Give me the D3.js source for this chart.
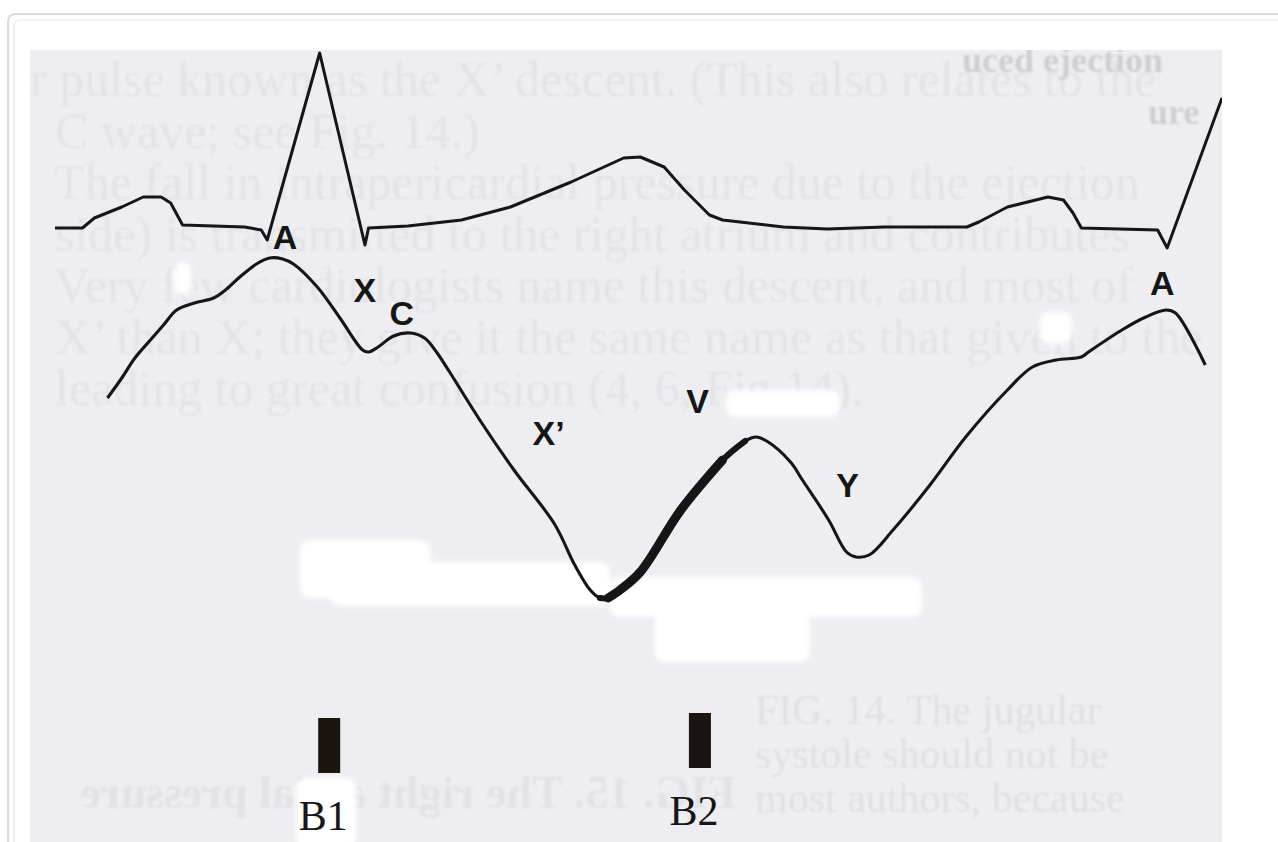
<!DOCTYPE html>
<html>
<head>
<meta charset="utf-8">
<script src="https://cdn.jsdelivr.net/npm/d3@7"></script>
<style>
  html, body { margin: 0; padding: 0; background: #fff; overflow: hidden; }
  svg { display: block; }
</style>
</head>
<body>
<svg id="chart" width="1278" height="842"></svg>
<script>
// time is in % of the sweep, amplitude in arbitrary units
const ecgTime = [2.1, 4.4, 5.4, 7.7, 9.5, 11.0, 11.8, 12.8, 18.0, 19.4, 19.9, 24.3, 28.1, 28.4, 31.7, 36.2, 40.3, 45.4, 49.8, 51.2, 53.2, 54.9, 57.0, 58.1, 63.2, 66.9, 71.7, 78.6, 79.6, 82.0, 85.4, 86.7, 87.5, 88.2, 94.6, 95.4, 100];
const ecgAmp  = [0, 0, 1.0, 2.1, 3.1, 3.1, 2.5, 0.3, 0.1, -0.2, -1.2, 17.5, -1.7, 0, 0.2, 0.8, 2.1, 4.6, 7.0, 7.1, 6.1, 3.8, 1.3, 0.8, 0.1, -0.1, 0.1, 0.1, 0.6, 2.1, 3.1, 2.8, 1.5, 0, -0.2, -2.0, 13.0];

const jvpTime = [6.5, 7.7, 8.8, 10.1, 11.2, 12.3, 13.8, 15.4, 16.4, 17.6, 19.0, 20.1, 21.2, 22.1, 24.1, 26.0, 27.9, 28.4, 29.2, 30.5, 31.9, 33.1, 34.1, 35.2, 37.9, 40.6, 44.0, 45.7, 47.0, 47.8, 48.5, 49.5, 51.2, 54.6, 58.1, 60.0, 60.9, 61.8, 63.8, 64.8, 67.0, 68.5, 69.3, 70.4, 72.4, 75.5, 78.5, 82.0, 84.1, 86.1, 88.2, 88.8, 91.6, 93.6, 95.3, 96.1, 98.6];
const jvpAmp  = [20.2, 22.2, 24.2, 26.0, 27.5, 29.0, 29.7, 30.2, 31.0, 32.3, 33.6, 34.2, 34.1, 33.6, 31.3, 28.2, 25.0, 24.8, 25.3, 26.4, 26.7, 26.2, 24.8, 22.8, 17.7, 13.0, 7.6, 3.5, 1.0, 0.2, 0.2, 1.0, 2.8, 9.0, 14.0, 15.9, 16.3, 15.9, 13.8, 12.0, 8.0, 4.8, 4.3, 4.5, 7.0, 11.5, 16.3, 21.0, 23.3, 24.0, 24.3, 24.8, 27.0, 28.3, 29.0, 28.7, 23.5];
// systolic stretch drawn heavy (x' trough up to v), as [from, to, width]
const heavyBands = [[47.8, 60.0, 6], [48.5, 58.1, 9]];

const waveNames = ["A", "X", "C", "X\u2019", "V", "Y", "A"];
const waveTime  = [21.4, 28.1, 31.2, 43.5, 56.0, 68.6, 95.0];
const waveAmp   = [36.3, 31.0, 28.7, 16.7, 19.9, 11.5, 31.7];

const soundNames = ["B1", "B2"];
const soundTime  = [25.1, 56.2];
const soundLevel = [0, 0.5];

// faint show-through of the scanned page
const ghostLines = [
  "r pulse known as the X\u2019 descent. (This also relates to the",
  "  C wave; see Fig. 14.)",
  "  The fall in intrapericardial pressure due to the ejection",
  "  side) is transmitted to the right atrium and contributes",
  "  Very few cardiologists name this descent, and most of",
  "  X\u2019 than X; they give it the same name as that given to the",
  "  leading to great confusion (4, 6, Fig 14).",
];
const ghostCaption = ["FIG. 14.  The jugular", "systole should not be", "most authors, because"];

const W = 1278, H = 842;
const img = { x0: 30, x1: 1222, y0: 50, y1: 842 };

const svg = d3.select("#chart");

// card frame around the scan
const frame = (o, r) => `M${o.x},${H + 20} L${o.x},${o.y + r} Q${o.x},${o.y} ${o.x + r},${o.y} L${W + 20},${o.y}`;
svg.append("path").attr("d", frame({ x: 8, y: 14 }, 8))
  .attr("fill", "none").attr("stroke", "#dadada").attr("stroke-width", 2);
svg.append("path").attr("d", frame({ x: 14, y: 20 }, 6))
  .attr("fill", "none").attr("stroke", "#ededed").attr("stroke-width", 1.5);

const defs = svg.append("defs");
defs.append("clipPath").attr("id", "scan")
  .append("rect").attr("x", img.x0).attr("y", img.y0)
  .attr("width", img.x1 - img.x0).attr("height", img.y1 - img.y0);
defs.append("filter").attr("id", "soft")
  .append("feGaussianBlur").attr("stdDeviation", 2.5);
defs.append("filter").attr("id", "ghost")
  .append("feGaussianBlur").attr("stdDeviation", 0.9);

const g = svg.append("g").attr("clip-path", "url(#scan)");

g.append("rect")
  .attr("x", img.x0).attr("y", img.y0)
  .attr("width", img.x1 - img.x0).attr("height", img.y1 - img.y0)
  .attr("fill", "#eeeef2");

// show-through text
const ghost = g.append("g").attr("filter", "url(#ghost)");
ghost.selectAll("text.line")
  .data(ghostLines)
  .join("text")
  .attr("class", "line")
  .attr("x", img.x0)
  .attr("y", (d, i) => 96 + i * 51.5)
  .attr("xml:space", "preserve")
  .style("font-family", "'Liberation Serif', serif")
  .style("font-size", "50px")
  .style("fill", "#e3e3e8")
  .text((d) => d);

ghost.append("text")
  .attr("x", 962).attr("y", 72)
  .style("font-family", "'Liberation Serif', serif")
  .style("font-size", "36px").style("font-weight", "bold")
  .style("fill", "#cdcdd3")
  .text("uced ejection");
ghost.append("text")
  .attr("x", 1148).attr("y", 124)
  .style("font-family", "'Liberation Serif', serif")
  .style("font-size", "36px").style("font-weight", "bold")
  .style("fill", "#cdcdd3")
  .text("ure");

ghost.selectAll("text.cap")
  .data(ghostCaption)
  .join("text")
  .attr("class", "cap")
  .attr("x", 755)
  .attr("y", (d, i) => 724 + i * 44)
  .style("font-family", "'Liberation Serif', serif")
  .style("font-size", "42px")
  .style("fill", "#dfdfe4")
  .text((d) => d);

// mirrored caption bleeding from the back page
ghost.append("text")
  .attr("transform", "translate(766,0) scale(-1,1)")
  .attr("x", 30).attr("y", 808)
  .style("font-family", "'Liberation Serif', serif")
  .style("font-size", "46px").style("font-weight", "bold")
  .style("fill", "#e2e2e7")
  .text("FIG. 15.  The right atrial pressure");

// white erasure marks on the scan
const patches = [
  [174, 262, 17, 33], [300, 540, 130, 58], [330, 562, 280, 44], [610, 577, 312, 40],
  [655, 612, 155, 50], [726, 390, 114, 27], [1040, 312, 32, 32], [296, 778, 60, 70],
];
g.append("g").attr("filter", "url(#soft)")
  .selectAll("rect")
  .data(patches)
  .join("rect")
  .attr("x", (d) => d[0]).attr("y", (d) => d[1])
  .attr("width", (d) => d[2]).attr("height", (d) => d[3])
  .attr("rx", 10)
  .attr("fill", "#ffffff");

const x = d3.scaleLinear().domain([0, 100]).range([img.x0, img.x1]);
const yEcg = d3.scaleLinear().domain([0, 17.5]).range([228, 53]);
const yJvp = d3.scaleLinear().domain([0, 35]).range([600, 250]);
const ySound = d3.scaleLinear().domain([0, 1]).range([718, 708]);

const ecg = ecgTime.map((t, i) => ({ t, a: ecgAmp[i] }));
const jvp = jvpTime.map((t, i) => ({ t, a: jvpAmp[i] }));

const ink = "#161616";

g.append("path")
  .datum(ecg)
  .attr("d", d3.line().x((d) => x(d.t)).y((d) => yEcg(d.a)))
  .attr("fill", "none")
  .attr("stroke", ink)
  .attr("stroke-width", 3)
  .attr("stroke-linejoin", "round");

const jvpLine = d3.line().x((d) => x(d.t)).y((d) => yJvp(d.a)).curve(d3.curveCatmullRom.alpha(0.5));

g.append("path")
  .datum(jvp)
  .attr("d", jvpLine)
  .attr("fill", "none")
  .attr("stroke", ink)
  .attr("stroke-width", 3.1)
  .attr("stroke-linejoin", "round");

// heavy stroke, tapered at both ends
heavyBands.forEach(([a, b, w]) => {
  g.append("path")
    .datum(jvp.filter((d) => d.t >= a - 0.01 && d.t <= b + 0.01))
    .attr("d", jvpLine)
    .attr("fill", "none")
    .attr("stroke", ink)
    .attr("stroke-width", w)
    .attr("stroke-linecap", "round")
    .attr("stroke-linejoin", "round");
});

g.append("g")
  .selectAll("text")
  .data(waveNames)
  .join("text")
  .attr("x", (d, i) => x(waveTime[i]))
  .attr("y", (d, i) => yJvp(waveAmp[i]))
  .attr("text-anchor", "middle")
  .attr("dominant-baseline", "central")
  .style("font-family", "'Liberation Sans', Arial, sans-serif")
  .style("font-weight", "bold")
  .style("font-size", "34px")
  .style("fill", ink)
  .text((d) => d);

// heart sounds
g.append("g")
  .selectAll("rect")
  .data(soundNames)
  .join("rect")
  .attr("x", (d, i) => x(soundTime[i]) - 11)
  .attr("y", (d, i) => ySound(soundLevel[i]))
  .attr("width", 22)
  .attr("height", 55)
  .attr("fill", "#1b1512");

g.append("g")
  .selectAll("text")
  .data(soundNames)
  .join("text")
  .attr("x", (d, i) => x(soundTime[i]) - 6)
  .attr("y", (d, i) => ySound(soundLevel[i]) + 112)
  .attr("text-anchor", "middle")
  .style("font-family", "'Liberation Serif', 'Times New Roman', serif")
  .style("font-size", "42px")
  .style("fill", ink)
  .text((d) => d);
</script>
</body>
</html>
